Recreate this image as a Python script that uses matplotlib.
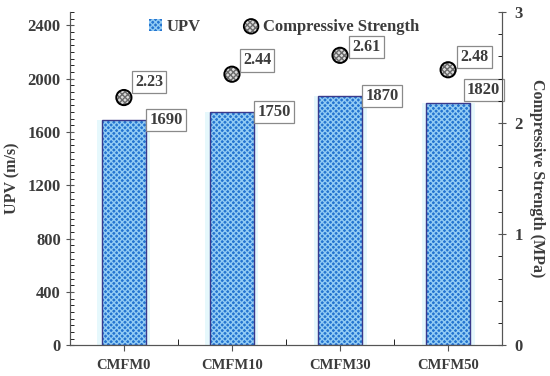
import numpy as np
import matplotlib.pyplot as plt
from matplotlib.ticker import MultipleLocator

plt.rcParams['font.family'] = ['Liberation Serif', 'DejaVu Serif']
plt.rcParams['font.weight'] = 'bold'
plt.rcParams['axes.labelweight'] = 'bold'
plt.rcParams['hatch.linewidth'] = 1.0

# data
mixes = ["CMFM0", "CMFM10", "CMFM30", "CMFM50"]
upv = [1690, 1750, 1870, 1820]
strength = [2.23, 2.44, 2.61, 2.48]

# label offsets (points)
upv_off = [(0, 0), (0, 0), (0, 0), (-5, 9)]
cs_off = [(8, 11), (8, 10), (9, 6), (9, 9)]

txt = "#3c3c3c"
x = np.arange(len(mixes))

fig = plt.figure(figsize=(5.5, 3.76), dpi=100)
ax = fig.add_axes([0.127, 0.082, 0.786, 0.886])
ax2 = ax.twinx()

w = 0.4
ax.bar(x, upv, width=w + 0.09, color="#e6f8fc", zorder=1)
ax.bar(x, upv, width=w, color="#2474d0", edgecolor="#92ccf4", hatch="x" * 6, linewidth=0, zorder=2)
ax.bar(x, upv, width=w, color="none", edgecolor="#3a3a8c", linewidth=1, zorder=3)

box = dict(boxstyle="square,pad=0.2", fc="white", ec="#8a8a8a", lw=0.9)
for i, v in enumerate(upv):
    ax.annotate(str(v), (x[i] + w / 2, v), xytext=(3 + upv_off[i][0], upv_off[i][1]),
                textcoords="offset points", ha="left", va="center", fontsize=12,
                color=txt, bbox=box, zorder=5)

ax2.scatter(x, strength, s=120, facecolor="#dcdcdc", edgecolor="#6a6a6a", hatch="x" * 6,
            linewidth=0, zorder=4)
ax2.scatter(x, strength, s=120, facecolor="none", edgecolor="black", linewidth=1.4, zorder=4)
for i, v in enumerate(strength):
    ax2.annotate(f"{v:.2f}", (x[i], v), xytext=cs_off[i], textcoords="offset points",
                 ha="left", va="center", fontsize=11.5, color=txt, bbox=box, zorder=5)

ax.set_xlim(-0.5, 3.5)
ax.set_ylim(0, 2500)
ax2.set_ylim(0, 3)
ax.set_xticks(x)
ax.set_xticklabels(mixes)
ax.set_xticks(np.arange(0.5, 3.0, 1), minor=True)
ax.yaxis.set_major_locator(MultipleLocator(400))
ax.yaxis.set_minor_locator(MultipleLocator(50))
ax2.yaxis.set_major_locator(MultipleLocator(1))
ax2.yaxis.set_minor_locator(MultipleLocator(0.2))

for a in (ax, ax2):
    a.spines["top"].set_visible(False)
    for s in a.spines.values():
        s.set_color("#555555")
    a.tick_params(colors="#555555", labelcolor=txt, labelsize=12)
ax.tick_params(axis="x", labelsize=10.5)
ax.tick_params(axis="y", which="major", direction="inout", length=6)
ax.tick_params(axis="y", which="minor", direction="in", length=3)
ax.tick_params(axis="x", which="major", direction="out", length=4, pad=6)
ax.tick_params(axis="x", which="minor", direction="in", length=4)
ax2.tick_params(axis="y", which="major", direction="inout", length=6, pad=6)
ax2.tick_params(axis="y", which="minor", direction="in", length=3)

ax.set_ylabel("UPV (m/s)", fontsize=11.5, color=txt, labelpad=5)
ax2.set_ylabel("Compressive Strength (MPa)", fontsize=11.5, color=txt, rotation=270, labelpad=16)

h1 = ax.bar([0], [0], color="#2474d0", edgecolor="#92ccf4", hatch="x" * 6, linewidth=0)
h2a = ax2.scatter([], [], s=110, facecolor="#dcdcdc", edgecolor="#6a6a6a", hatch="x" * 6, linewidth=0)
h2b = ax2.scatter([], [], s=110, facecolor="none", edgecolor="black", linewidth=1.3)
leg = ax.legend([h1, (h2a, h2b)], ["UPV", "Compressive Strength"], ncol=2, frameon=False,
                loc="upper center", bbox_to_anchor=(0.495, 1.025), fontsize=12,
                handlelength=0.8, handletextpad=0.3, columnspacing=2.6, labelcolor=txt)
leg.set_zorder(10)

fig.savefig("out.png", dpi=100)
